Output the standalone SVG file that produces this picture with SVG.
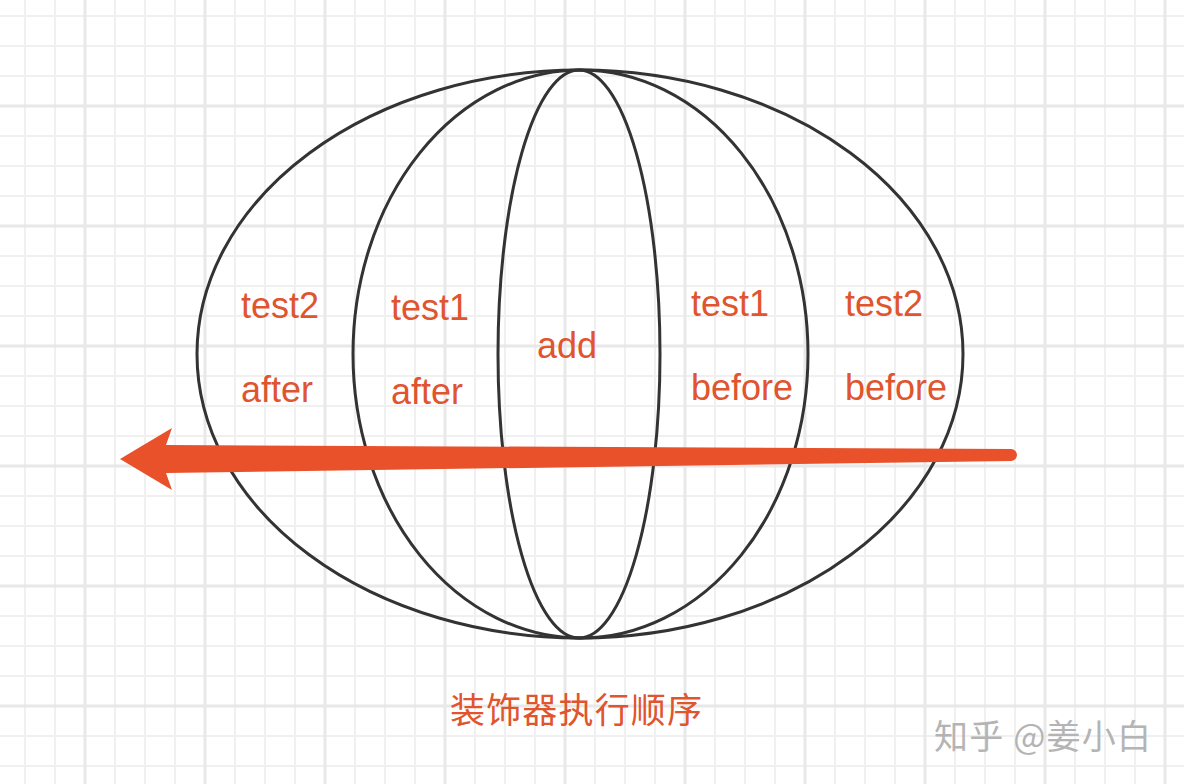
<svg xmlns="http://www.w3.org/2000/svg" width="1184" height="784" viewBox="0 0 1184 784">
  <style>
    .lbl { font-family: "Liberation Sans", Arial, "Noto Sans CJK SC", sans-serif; font-size: 36px; fill: #E0542E; }
    .cap { font-family: "Noto Sans CJK SC", sans-serif; font-size: 35px; fill: #E0542E; }
    .wm { font-family: "Noto Sans CJK SC", sans-serif; font-size: 34px; fill: #b4b4b4; }
    .ell { fill: none; stroke: #333333; stroke-width: 3; }
    .minor { stroke: #f0f0f0; stroke-width: 2; }
    .major { stroke: #e8e8e8; stroke-width: 3; }
  </style>
  <defs>
    <pattern id="grid" patternUnits="userSpaceOnUse" x="10" y="1" width="120" height="120">
      <line class="minor" x1="15" y1="0" x2="15" y2="120"/>
      <line class="minor" x1="45" y1="0" x2="45" y2="120"/>
      <line class="minor" x1="105" y1="0" x2="105" y2="120"/>
      <line class="minor" x1="0" y1="15" x2="120" y2="15"/>
      <line class="minor" x1="0" y1="45" x2="120" y2="45"/>
      <line class="minor" x1="0" y1="75" x2="120" y2="75"/>
      <line class="major" x1="75" y1="0" x2="75" y2="120"/>
      <line class="major" x1="0" y1="105" x2="120" y2="105"/>
    </pattern>
  </defs>
  <rect width="1184" height="784" fill="#ffffff"/>
  <rect width="1184" height="784" fill="url(#grid)"/>

  <g id="outer-ellipse">
    <ellipse class="ell" cx="580" cy="354" rx="383" ry="284"/>
  </g>
  <g id="middle-ellipse">
    <ellipse class="ell" cx="580.5" cy="354" rx="227.5" ry="284"/>
  </g>
  <g id="inner-ellipse">
    <ellipse class="ell" cx="579" cy="354" rx="81" ry="284"/>
  </g>

  <g id="label-test2-after">
    <text class="lbl" x="241" y="318">test2</text>
    <text class="lbl" x="241" y="402">after</text>
  </g>
  <g id="label-test1-after">
    <text class="lbl" x="391" y="320">test1</text>
    <text class="lbl" x="391" y="404">after</text>
  </g>
  <g id="label-add">
    <text class="lbl" x="537" y="358">add</text>
  </g>
  <g id="label-test1-before">
    <text class="lbl" x="691" y="316">test1</text>
    <text class="lbl" x="691" y="400">before</text>
  </g>
  <g id="label-test2-before">
    <text class="lbl" x="845" y="316">test2</text>
    <text class="lbl" x="845" y="400">before</text>
  </g>

  <g id="connectors">
    <path d="M120,459 L172,428 L166,445 L1011,449 A6,6 0 0 1 1011,461 L166,473 L172,490 Z" fill="#E8512A"/>
  </g>

  <g id="caption">
    <text class="cap" x="450" y="723" textLength="252">装饰器执行顺序</text>
  </g>
  <g id="watermark">
    <text class="wm" x="934" y="749" textLength="217">知乎 @姜小白</text>
  </g>
</svg>
